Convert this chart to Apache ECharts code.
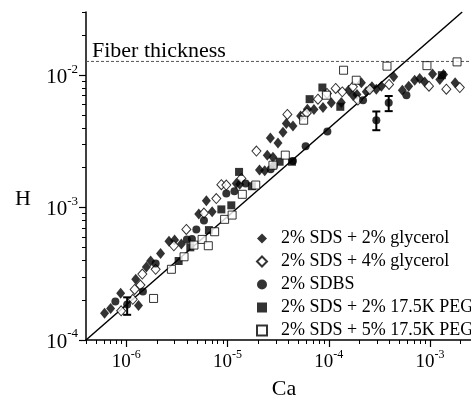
<!DOCTYPE html>
<html><head><meta charset="utf-8">
<script src="https://cdn.jsdelivr.net/npm/echarts@6/dist/echarts.min.js"></script>
<style>html,body{margin:0;padding:0;background:#fff;}#c{width:471px;height:400px;}</style>
</head><body><div id="c"></div>
<script>
// ---- data (Ca, H) ----
const sdsGly2 = [[6.1e-7,1.59e-4],[7.0e-7,1.73e-4],[8.8e-7,2.25e-4],[1.32e-6,1.82e-4],[1.24e-6,2.88e-4],[1.58e-6,3.56e-4],[1.74e-6,3.95e-4],[2.18e-6,4.51e-4],[2.64e-6,5.58e-4],[3.0e-6,5.69e-4],[3.5e-6,5.3e-4],[5.2e-6,8.93e-4],[6.18e-6,1.125e-3],[7.05e-6,9.3e-4],[1.22e-5,1.52e-3],[1.32e-5,1.50e-3],[2.07e-5,1.92e-3],[2.33e-5,1.90e-3],[2.47e-5,2.49e-3],[2.81e-5,2.40e-3],[2.65e-5,3.36e-3],[3.15e-5,3.08e-3],[3.53e-5,3.70e-3],[3.81e-5,4.32e-3],[4.43e-5,4.14e-3],[5.27e-5,4.91e-3],[6.15e-5,5.54e-3],[7.14e-5,5.51e-3],[8.77e-5,5.71e-3],[1.06e-4,6.2e-3],[1.33e-4,6.22e-3],[1.57e-4,7.71e-3],[1.73e-4,7.06e-3],[1.90e-4,7.15e-3],[2.10e-4,8.75e-3],[2.35e-4,7.48e-3],[2.67e-4,8.16e-3],[2.95e-4,7.84e-3],[3.31e-4,8.26e-3],[4.38e-4,9.71e-3],[5.33e-4,7.71e-3],[6.16e-4,8.26e-3],[7.06e-4,9.16e-3],[7.91e-4,9.45e-3],[8.87e-4,8.90e-3],[1.06e-3,1.02e-2],[1.25e-3,9.29e-3],[1.36e-3,1.01e-2],[1.77e-3,8.75e-3]];
const sdsGly4 = [[8.9e-7,1.66e-4],[1.16e-6,2.03e-4],[1.21e-6,2.41e-4],[1.38e-6,2.60e-4],[1.44e-6,3.15e-4],[1.95e-6,3.42e-4],[2.95e-6,5.15e-4],[3.92e-6,6.84e-4],[5.85e-6,9.1e-4],[7.75e-6,1.17e-3],[8.69e-6,1.49e-3],[9.73e-6,1.48e-3],[1.37e-5,1.66e-3],[1.93e-5,2.67e-3],[3.90e-5,5.05e-3],[5.78e-5,5.05e-3],[6.07e-5,5.19e-3],[7.82e-5,6.59e-3],[9.6e-5,7.28e-3],[1.17e-4,7.94e-3],[1.36e-4,7.48e-3],[1.73e-4,8.16e-3],[1.94e-4,6.48e-3],[2.54e-4,7.80e-3],[3.94e-4,8.51e-3],[9.77e-4,8.26e-3],[1.45e-3,7.84e-3],[1.97e-3,8.07e-3]];
const sdbs = [[7.8e-7,1.95e-4],[1.02e-6,1.85e-4],[1.46e-6,2.32e-4],[1.95e-6,3.79e-4],[3.97e-6,5.75e-4],[4.45e-6,5.78e-4],[4.92e-6,6.84e-4],[5.85e-6,7.98e-4],[9.73e-6,1.28e-3],[1.17e-5,1.33e-3],[1.51e-5,1.52e-3],[2.67e-5,1.95e-3],[2.87e-5,2.07e-3],[4.43e-5,2.25e-3],[5.91e-5,2.91e-3],[9.69e-5,3.76e-3],[2.18e-4,6.48e-3],[2.95e-4,4.57e-3],[3.91e-4,6.18e-3],[5.85e-4,7.06e-3]];
const sdsPeg2 = [[3.29e-6,3.95e-4],[4.29e-6,5.01e-4],[6.55e-6,6.76e-4],[8.69e-6,9.69e-4],[1.09e-5,1.04e-3],[1.30e-5,1.86e-3],[1.74e-5,1.45e-3],[3.27e-5,2.22e-3],[4.33e-5,2.22e-3],[6.47e-5,6.59e-3],[8.65e-5,8.07e-3],[1.30e-4,5.77e-3],[1.31e-3,1.0e-2]];
const sdsPeg5 = [[1.86e-6,2.06e-4],[2.79e-6,3.42e-4],[3.72e-6,4.25e-4],[4.66e-6,5.21e-4],[5.61e-6,5.75e-4],[6.46e-6,5.15e-4],[7.46e-6,6.57e-4],[9.36e-6,8.15e-4],[1.11e-5,8.78e-4],[1.40e-5,1.26e-3],[1.90e-5,1.48e-3],[2.81e-5,2.09e-3],[3.72e-5,2.49e-3],[5.65e-5,4.57e-3],[9.47e-5,7.06e-3],[1.40e-4,1.09e-2],[1.87e-4,9.16e-3],[3.76e-4,1.17e-2],[9.33e-4,1.18e-2],[1.85e-3,1.26e-2]];
// error bars: [Ca, Hlow, Hhigh]
const errBars = [[1.02e-6,1.55e-4,2.1e-4],[2.95e-4,3.84e-3,5.32e-3],[3.91e-4,5.35e-3,6.96e-3]];
// reference line H ~ Ca^(2/3)
const scalingLine = [[4e-7,1e-4],[2.08e-3,3e-2]];
const fiberThickness = 0.0127;
const seriesNames = ['2% SDS + 2% glycerol','2% SDS + 4% glycerol','2% SDBS','2% SDS + 2% 17.5K PEG','2% SDS + 5% 17.5K PEG'];
// axes
const X_MIN = 4e-7, X_MAX = 3e-3, Y_MIN = 1e-4, Y_MAX = 3e-2;
const X_MAJOR = [1e-6,1e-5,1e-4,1e-3];
const Y_MAJOR = [1e-4,1e-3,1e-2];
const X_MINOR = [4e-7,5e-7,6e-7,7e-7,8e-7,9e-7,2e-6,3e-6,4e-6,5e-6,6e-6,7e-6,8e-6,9e-6,2e-5,3e-5,4e-5,5e-5,6e-5,7e-5,8e-5,9e-5,2e-4,3e-4,4e-4,5e-4,6e-4,7e-4,8e-4,9e-4,2e-3,3e-3];
const Y_MINOR = [2e-4,3e-4,4e-4,5e-4,6e-4,7e-4,8e-4,9e-4,2e-3,3e-3,4e-3,5e-3,6e-3,7e-3,8e-3,9e-3,2e-2,3e-2];

const FF = 'Liberation Serif';
const BLK = '#000';
function powLabel(v){ return '{b|10}{s|' + Math.round(Math.log10(v)) + '}'; }
function rich(big, small){
  return { b:{fontFamily:FF,fontSize:big,color:BLK,lineHeight:big+4,verticalAlign:'bottom'},
           s:{fontFamily:FF,fontSize:small,color:BLK,lineHeight:small,verticalAlign:'top'} };
}
const chart = echarts.init(document.getElementById('c'), null, {renderer:'canvas'});
const baseX = {type:'log', min:X_MIN, max:X_MAX, position:'bottom', splitLine:{show:false}};
const baseY = {type:'log', min:Y_MIN, max:Y_MAX, position:'left', splitLine:{show:false}};
chart.setOption({
  animation:false,
  backgroundColor:'#fff',
  grid:{left:86, top:12, width:392.3, height:328, containLabel:false, outerBoundsMode:'none'},
  xAxis:[
    Object.assign({}, baseX, {axisLine:{show:true,lineStyle:{color:BLK,width:1.5}},
      axisTick:{show:true,customValues:X_MINOR,length:4,lineStyle:{color:BLK,width:1}}, axisLabel:{show:false}}),
    Object.assign({}, baseX, {axisLine:{show:false},
      axisTick:{show:true,customValues:X_MAJOR,length:7,lineStyle:{color:BLK,width:1.2}},
      axisLabel:{show:true,customValues:X_MAJOR,formatter:powLabel,rich:rich(19,12),margin:9}})
  ],
  yAxis:[
    Object.assign({}, baseY, {axisLine:{show:true,lineStyle:{color:BLK,width:1.5}},
      axisTick:{show:true,customValues:Y_MINOR,length:4,lineStyle:{color:BLK,width:1}}, axisLabel:{show:false}}),
    Object.assign({}, baseY, {axisLine:{show:false},
      axisTick:{show:true,customValues:Y_MAJOR,length:7,lineStyle:{color:BLK,width:1.2}},
      axisLabel:{show:true,customValues:Y_MAJOR,formatter:powLabel,rich:rich(21,13),margin:8}})
  ],
  legend:{
    orient:'vertical', left:251, top:222, itemGap:0, itemWidth:10, itemHeight:10,
    textStyle:{fontFamily:FF,fontSize:18,color:BLK,lineHeight:23,padding:[0,0,0,9]},
    data:seriesNames
  },
  graphic:[
    {type:'text', left:92, top:40, style:{text:'Fiber thickness', font:'22px "Liberation Serif"', fill:BLK}},
    {type:'text', x:23, y:199, style:{text:'H', font:'22px "Liberation Serif"', fill:BLK, align:'center', verticalAlign:'middle'}},
    {type:'text', x:284, y:389, style:{text:'Ca', font:'22px "Liberation Serif"', fill:BLK, align:'center', verticalAlign:'middle'}}
  ],
  series:[
    {type:'line', data:scalingLine, showSymbol:false, symbol:'none', lineStyle:{color:BLK,width:1.5}, silent:true, z:1},
    {type:'line', data:[[X_MIN,fiberThickness],[X_MAX,fiberThickness]], symbol:'none', lineStyle:{color:'#555',width:1,type:[3,2]}, silent:true, z:1},
    {name:seriesNames[0], type:'scatter', data:sdsGly2, symbol:'diamond', symbolSize:[9,11], itemStyle:{color:BLK}, z:3},
    {name:seriesNames[1], type:'scatter', data:sdsGly4, symbol:'diamond', symbolSize:[9,10], itemStyle:{color:'#fff',borderColor:BLK,borderWidth:1}, z:3},
    {name:seriesNames[2], type:'scatter', data:sdbs, symbol:'circle', symbolSize:8, itemStyle:{color:BLK}, z:3},
    {name:seriesNames[3], type:'scatter', data:sdsPeg2, symbol:'rect', symbolSize:8, itemStyle:{color:BLK}, z:3},
    {name:seriesNames[4], type:'scatter', data:sdsPeg5, symbol:'rect', symbolSize:8, itemStyle:{color:'#fff',borderColor:BLK,borderWidth:1}, z:3},
    {type:'custom', data:errBars, z:4, silent:true,
      renderItem:function(params, api){
        const x = api.value(0);
        const p1 = api.coord([x, api.value(1)]);
        const p2 = api.coord([x, api.value(2)]);
        const w = 4;
        const st = {stroke:BLK, lineWidth:2};
        return {type:'group', children:[
          {type:'line', shape:{x1:p1[0],y1:p1[1],x2:p2[0],y2:p2[1]}, style:st},
          {type:'line', shape:{x1:p1[0]-w,y1:p1[1],x2:p1[0]+w,y2:p1[1]}, style:st},
          {type:'line', shape:{x1:p2[0]-w,y1:p2[1],x2:p2[0]+w,y2:p2[1]}, style:st}
        ]};
      }}
  ]
});
</script></body></html>
